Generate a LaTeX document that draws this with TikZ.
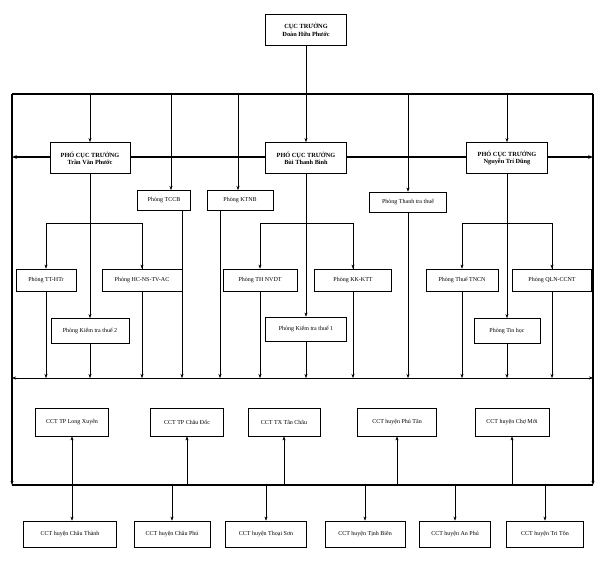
\documentclass[tikz,border=0pt]{standalone}
\usepackage{fontspec}
\setmainfont{Liberation Serif}
\usetikzlibrary{arrows.meta}
\begin{document}
\begin{tikzpicture}[x=1pt,y=-1pt,
    box/.style={draw,thick,fill=white,minimum height=22pt,inner sep=1pt,
        font=\fontsize{6}{7}\selectfont,align=center},
    boss/.style={box,minimum height=31pt,font=\bfseries\fontsize{6.3}{7.3}\selectfont},
    arr/.style={-{Stealth[length=4pt,width=3pt]}},
    bus/.style={line width=1.6pt}]
\useasboundingbox (0,0) rectangle (601,562);
% bus lines
\coordinate (topL) at (12,94);   \coordinate (topR) at (593,94);
\coordinate (midL) at (12,157);  \coordinate (midR) at (593,157);
\coordinate (lowL) at (12,378);  \coordinate (lowR) at (593,378);
\coordinate (botL) at (12,485);  \coordinate (botR) at (593,485);
\draw[bus] (topL) -- (topR);
\draw[bus] (botL) -- (botR);
\draw[bus,arr] (topL) -- (botL);
\draw[bus,arr] (topR) -- (botR);
\draw[bus,{Stealth[length=5pt]}-{Stealth[length=5pt]}] (midL) -- (midR);
\draw[{Stealth[length=4pt]}-{Stealth[length=4pt]}] (lowL) -- (lowR);
% leaders
\node[boss,minimum width=81pt] (cuc) at (306,30) {CỤC TRƯỞNG\\Đoàn Hữu Phước};
\node[boss,minimum width=80pt] (phoL) at (90,158) {PHÓ CỤC TRƯỞNG\\Trần Văn Phước};
\node[boss,minimum width=81pt] (phoC) at (306,158) {PHÓ CỤC TRƯỞNG\\Bùi Thanh Bình};
\node[boss,minimum width=81pt] (phoR) at (507,158) {PHÓ CỤC TRƯỞNG\\Nguyễn Trí Dũng};
\draw (cuc) -- (cuc |- topL);
% offices under the director
\node[box,minimum width=53pt,minimum height=20pt] (tccb) at (164,200) {Phòng TCCB};
\node[box,minimum width=66pt,minimum height=20pt] (ktnb) at (240,200) {Phòng KTNB};
\node[box,minimum width=77pt,minimum height=20pt] (ttt) at (408,202) {Phòng Thanh tra thuế};
\draw[arr] (phoL |- topL) -- (phoL);
\draw[arr] (phoC |- topL) -- (phoC);
\draw[arr] (phoR |- topL) -- (phoR);
\draw[arr] (171,94) -- (171,190);
\draw[arr] (238,94) -- (238,190);
\draw[arr] (ttt |- topL) -- (ttt);
% left group
\node[box,minimum width=60pt] (tthtr) at (46,280) {Phòng TT-HTr};
\node[box,minimum width=80pt] (hcns) at (142,280) {Phòng HC-NS-TV-AC};
\node[box,minimum width=78pt,minimum height=25pt] (ktt2) at (90,331) {Phòng Kiểm tra thuế 2};
% centre group
\node[box,minimum width=74pt] (thnv) at (260,280) {Phòng TH NVDT};
\node[box,minimum width=77pt] (kkktt) at (353,280) {Phòng KK-KTT};
\node[box,minimum width=81pt,minimum height=24pt] (ktt1) at (306,329) {Phòng Kiểm tra thuế 1};
% right group
\node[box,minimum width=72pt] (tncn) at (462,280) {Phòng Thuế TNCN};
\node[box,minimum width=79pt] (qln) at (552,280) {Phòng QLN-CCNT};
\node[box,minimum width=66pt,minimum height=25pt] (tinhoc) at (507,331) {Phòng Tin học};
\foreach \pho/\a/\b/\c in {phoL/tthtr/hcns/ktt2, phoC/thnv/kkktt/ktt1, phoR/tncn/qln/tinhoc}{
    \draw[arr] (\pho) -- (\c);
    \draw (\a.north) ++(0,-45) coordinate (\a-up) -| (\b.north) coordinate[pos=0] (dummy);
    \draw[arr] (\a-up) -- (\a.north);
    \draw[arr] (\a-up -| \b.north) -- (\b.north);
}
% down to the lower bus
\foreach \n in {tthtr,hcns,ktt2,thnv,kkktt,ktt1,tncn,qln,tinhoc,ttt}
    \draw[arr] (\n) -- (\n |- lowL);
\draw[arr] (tccb.south -| 182,0) -- (182,378);
\draw[arr] (ktnb.south -| 220,0) -- (220,378);
% branches
\node[box,minimum width=73pt,minimum height=28pt] (lx) at (72,422) {CCT TP Long Xuyên};
\node[box,minimum width=73pt,minimum height=28pt] (cd) at (187,422) {CCT TP Châu Đốc};
\node[box,minimum width=72pt,minimum height=28pt] (tc) at (284,422) {CCT TX Tân Châu};
\node[box,minimum width=79pt,minimum height=28pt] (pt) at (397,422) {CCT huyện Phú Tân};
\node[box,minimum width=74pt,minimum height=28pt] (cm) at (512,422) {CCT huyện Chợ Mới};
\node[box,minimum width=93pt,minimum height=26pt] (ct) at (70,534) {CCT huyện Châu Thành};
\node[box,minimum width=76pt,minimum height=26pt] (cp) at (172,534) {CCT huyện Châu Phú};
\node[box,minimum width=81pt,minimum height=26pt] (ts) at (266,534) {CCT huyện Thoại Sơn};
\node[box,minimum width=80pt,minimum height=26pt] (tb) at (365,534) {CCT huyện Tịnh Biên};
\node[box,minimum width=71pt,minimum height=26pt] (ap) at (455,534) {CCT huyện An Phú};
\node[box,minimum width=77pt,minimum height=26pt] (tt) at (545,534) {CCT huyện Tri Tôn};
\draw[{Stealth[length=4pt]}-{Stealth[length=4pt]}] (lx.south) -- (lx.south |- ct.north);
\foreach \n in {cd,tc,pt,cm}
    \draw[arr] (\n |- botL) -- (\n.south);
\foreach \n in {cp,ts,tb,ap,tt}
    \draw[arr] (\n |- botL) -- (\n.north);
\end{tikzpicture}
\end{document}
